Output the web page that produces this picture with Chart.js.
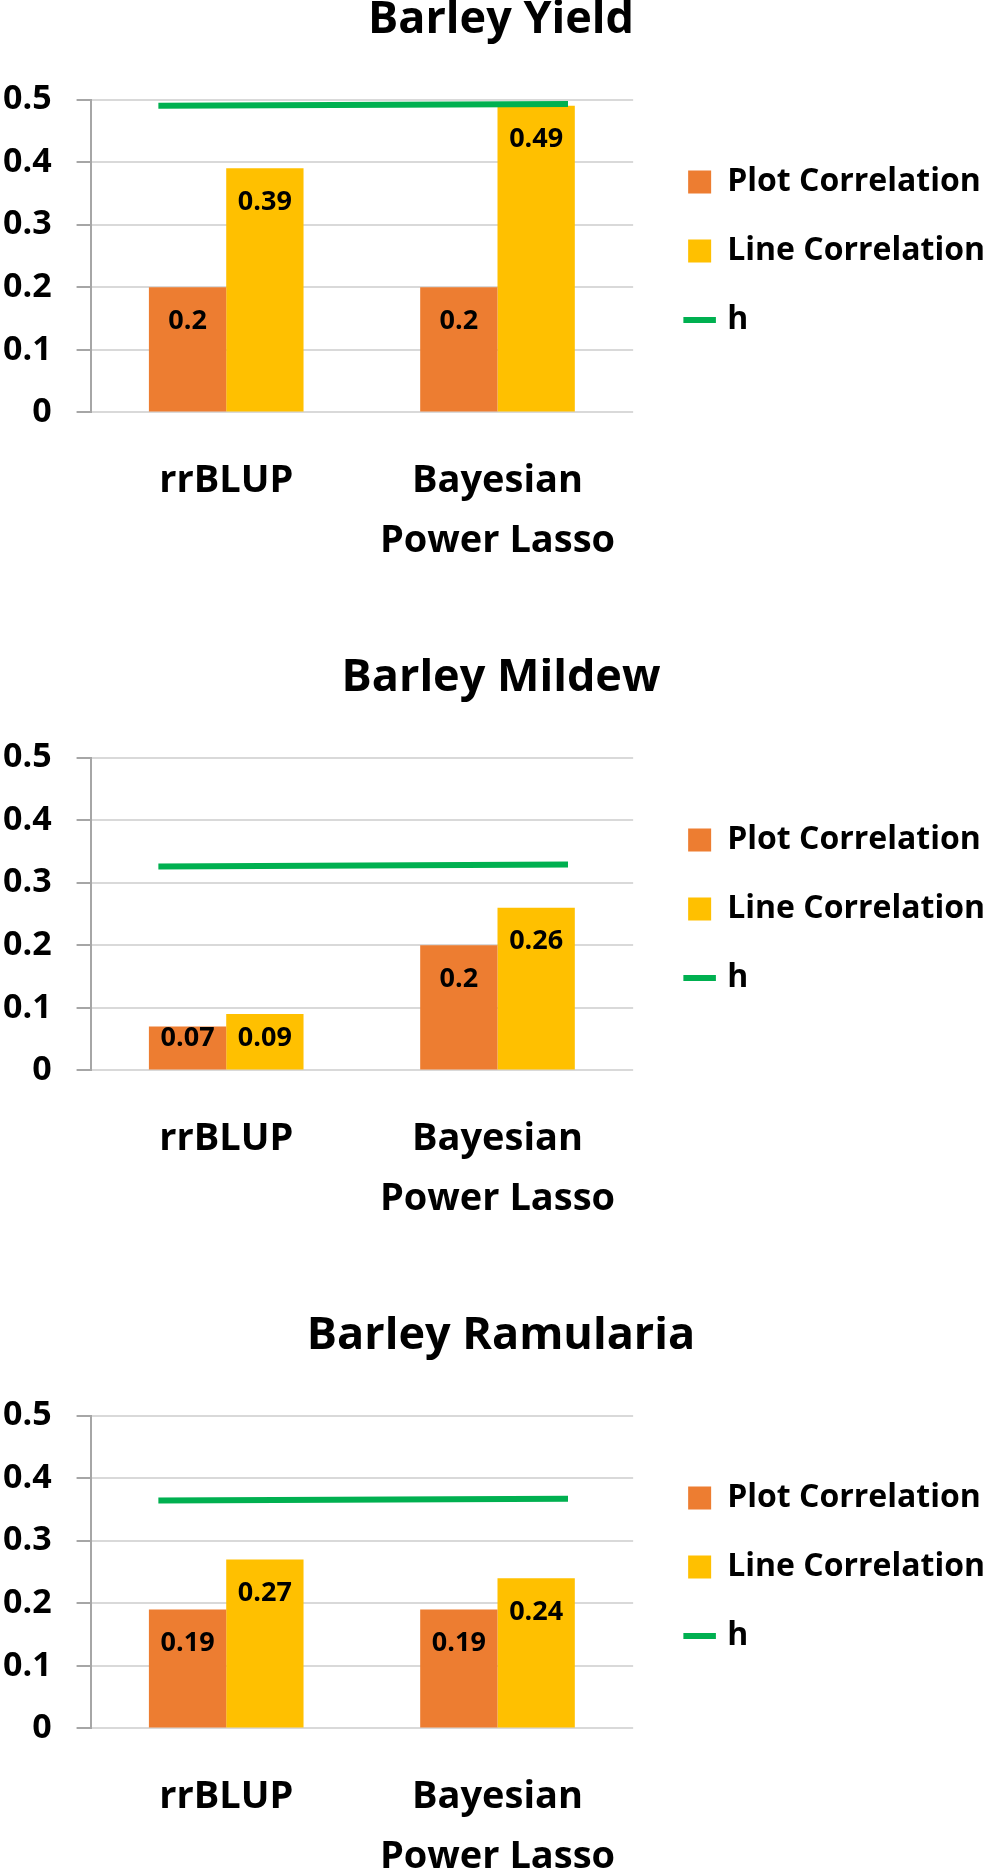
<!DOCTYPE html>
<html>
<head>
<meta charset="utf-8">
<script src="https://cdn.jsdelivr.net/npm/chart.js@4.4.1/dist/chart.umd.min.js"></script>
<style>
  html, body { margin: 0; padding: 0; background: #fff; overflow: hidden; }
  .panel { width: 993px; height: 658px; }
</style>
</head>
<body>
<div class="panel"><canvas id="chart0" width="993" height="658"></canvas></div>
<div class="panel"><canvas id="chart1" width="993" height="658"></canvas></div>
<div class="panel"><canvas id="chart2" width="993" height="658"></canvas></div>
<script>
var titles = ['Barley Yield', 'Barley Mildew', 'Barley Ramularia'];
var categories = ['rrBLUP', ['Bayesian', 'Power Lasso']];
var seriesNames = ['Plot Correlation', 'Line Correlation', 'h'];
var plotCorr = [[0.2, 0.2], [0.07, 0.2], [0.19, 0.19]];
var lineCorr = [[0.39, 0.49], [0.09, 0.26], [0.27, 0.24]];
var hValues = [[0.49, 0.493], [0.326, 0.329], [0.364, 0.367]];
// h line runs a bit past the two category centres (category index units)
var hSpan = [-0.25, 1.26];
var yTicks = [0, 0.1, 0.2, 0.3, 0.4, 0.5];
var yTickLabels = ['0', '0.1', '0.2', '0.3', '0.4', '0.5'];

var colors = ['#ED7D31', '#FFC000', '#00B050'];
var FONT = "'Open Sans', 'Liberation Sans', sans-serif";

Chart.defaults.font.family = FONT;
Chart.defaults.font.weight = 'bold';
Chart.defaults.color = '#000';

// value labels inside the top of each bar
var barLabels = {
  id: 'barLabels',
  afterDatasetsDraw: function(chart) {
    var ctx = chart.ctx;
    ctx.save();
    ctx.font = 'bold 27px ' + FONT;
    ctx.fillStyle = '#000';
    ctx.textAlign = 'center';
    ctx.textBaseline = 'middle';
    chart.data.datasets.forEach(function(ds, i) {
      if (ds.type === 'line') return;
      chart.getDatasetMeta(i).data.forEach(function(bar, j) {
        var y = Math.min(bar.y + 34, bar.base - 31);
        ctx.fillText(String(ds.data[j]), bar.x, y);
      });
    });
    ctx.restore();
  }
};

// nudge legend and title a little, like the original
var nudge = {
  id: 'nudge',
  afterLayout: function(chart) {
    chart.legend.left += 18;
    chart.legend.right += 18;
    chart.legend.top -= 5;
    chart.legend.bottom -= 5;
    chart.titleBlock.left += 11;
    chart.titleBlock.right += 11;
  }
};

function makeChart(k) {
  var ctx = document.getElementById('chart' + k).getContext('2d');
  return new Chart(ctx, {
    type: 'bar',
    data: {
      labels: categories,
      datasets: [{
        label: seriesNames[0],
        data: plotCorr[k],
        backgroundColor: colors[0],
        categoryPercentage: 0.57,
        barPercentage: 1.0,
        order: 2
      }, {
        label: seriesNames[1],
        data: lineCorr[k],
        backgroundColor: colors[1],
        categoryPercentage: 0.57,
        barPercentage: 1.0,
        order: 2
      }, {
        type: 'line',
        label: seriesNames[2],
        parsing: false,
        data: hSpan.map(function(x, i) { return { x: x, y: hValues[k][i] }; }),
        borderColor: colors[2],
        backgroundColor: colors[2],
        borderWidth: 6,
        pointRadius: 0,
        tension: 0,
        order: 1
      }]
    },
    options: {
      responsive: false,
      animation: false,
      layout: { padding: { left: 3, right: 16, top: 0, bottom: 86 } },
      plugins: {
        title: {
          display: true,
          text: titles[k],
          color: '#000',
          font: { size: 45, weight: 'bold', lineHeight: 0.9 },
          padding: { top: 0, bottom: 59 }
        },
        legend: {
          position: 'right',
          fullSize: false,
          maxWidth: 400,
          labels: {
            usePointStyle: true,
            boxWidth: 23,
            boxHeight: 23,
            padding: 37,
            color: '#000',
            font: { size: 32, weight: 'bold' },
            generateLabels: function(chart) {
              return chart.data.datasets.map(function(ds, i) {
                var isLine = ds.type === 'line';
                return {
                  text: ds.label,
                  fillStyle: isLine ? ds.borderColor : ds.backgroundColor,
                  strokeStyle: isLine ? ds.borderColor : ds.backgroundColor,
                  lineWidth: isLine ? 6 : 0,
                  pointStyle: isLine ? 'line' : 'rect',
                  fontColor: '#000',
                  hidden: false,
                  datasetIndex: i
                };
              });
            }
          }
        },
        tooltip: { enabled: false }
      },
      scales: {
        x: {
          grid: { display: false, drawTicks: false },
          border: { display: false },
          ticks: {
            color: '#000',
            padding: 38,
            maxRotation: 0,
            autoSkip: false,
            font: { size: 38, weight: 'bold', lineHeight: 1.6 }
          },
          afterFit: function(axis) { axis.height -= axis.options.ticks.padding; }
        },
        y: {
          min: 0,
          max: 0.5,
          afterBuildTicks: function(axis) {
            axis.ticks = yTicks.map(function(v) { return { value: v }; });
          },
          ticks: {
            color: '#000',
            padding: 25,
            font: { size: 34, weight: 'bold' },
            callback: function(v, i) { return yTickLabels[i]; }
          },
          afterFit: function(axis) { axis.width -= axis.options.ticks.padding; },
          grid: { color: '#D9D9D9', lineWidth: 2, tickLength: 14, tickColor: '#A6A6A6' },
          border: { color: '#A6A6A6', width: 2 }
        }
      }
    },
    plugins: [barLabels, nudge]
  });
}

for (var k = 0; k < titles.length; k++) makeChart(k);
</script>
</body>
</html>
